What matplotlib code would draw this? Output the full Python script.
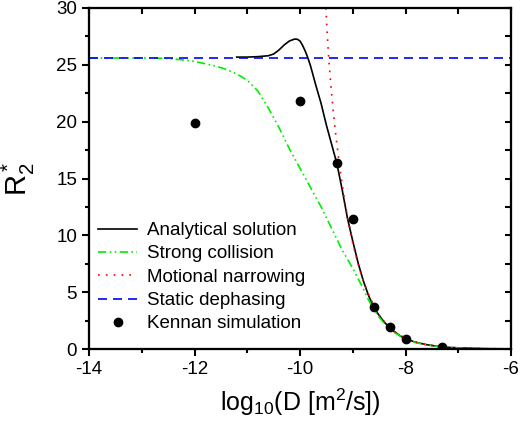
import matplotlib
matplotlib.use("Agg")
import matplotlib.pyplot as plt

plt.rcParams['font.family'] = ['Liberation Sans', 'DejaVu Sans']
plt.rcParams['mathtext.fontset'] = 'custom'
plt.rcParams['mathtext.rm'] = 'Liberation Sans'
plt.rcParams['mathtext.it'] = 'Liberation Sans'
plt.rcParams['axes.unicode_minus'] = False

# analytical solution
x_ana = [-11.2, -11.0, -10.8, -10.6, -10.5, -10.4, -10.3, -10.2, -10.1, -10.05,
         -10.0, -9.95, -9.9, -9.85, -9.8, -9.7, -9.6, -9.5, -9.4, -9.3, -9.2,
         -9.1, -9.0, -8.9, -8.8, -8.7, -8.6, -8.5, -8.4, -8.3, -8.2, -8.1, -8.0,
         -7.8, -7.6, -7.4, -7.2, -7.0, -6.5, -6.0]
y_ana = [25.68, 25.68, 25.72, 25.8, 25.95, 26.3, 26.75, 27.1, 27.27, 27.25,
         27.1, 26.7, 26.2, 25.6, 24.9, 23.2, 21.6, 19.7, 18.0, 16.3, 14.0,
         11.5, 9.5, 7.6, 6.0, 4.7, 3.65, 2.95, 2.35, 1.87, 1.5, 1.15, 0.9,
         0.58, 0.38, 0.24, 0.15, 0.1, 0.03, 0.01]

# strong collision
x_sc = [-14.0, -13.0, -12.6, -12.4, -12.2, -12.0, -11.8, -11.6, -11.4, -11.2,
        -11.0, -10.8, -10.6, -10.4, -10.2, -10.0, -9.8, -9.6, -9.4, -9.2,
        -9.0, -8.9, -8.8, -8.7, -8.6, -8.5, -8.4, -8.3, -8.2, -8.0, -7.8,
        -7.6, -7.4, -7.0, -6.5, -6.0]
y_sc = [25.6, 25.6, 25.58, 25.52, 25.42, 25.3, 25.1, 24.9, 24.6, 24.2,
        23.65, 22.7, 21.2, 19.5, 17.6, 15.9, 14.2, 12.5, 10.6, 8.7,
        7.1, 6.2, 5.3, 4.3, 3.5, 2.8, 2.25, 1.8, 1.42, 0.88, 0.56,
        0.36, 0.23, 0.09, 0.03, 0.01]

# motional narrowing
x_mn = [-9.51, -9.48, -9.45, -9.4, -9.35, -9.3, -9.25, -9.2, -9.15, -9.1,
        -9.0, -8.9, -8.8, -8.7, -8.6, -8.5, -8.4, -8.3, -8.2, -8.1, -8.0,
        -7.8, -7.6, -7.4, -7.2, -7.0, -6.5, -6.0]
y_mn = [30.0, 27.4, 25.2, 22.4, 20.0, 18.0, 16.1, 14.5, 13.0, 11.6,
        9.3, 7.5, 6.0, 4.8, 3.8, 3.0, 2.4, 1.9, 1.5, 1.2, 0.95,
        0.6, 0.38, 0.24, 0.15, 0.1, 0.03, 0.01]

# static dephasing
x_sd = [-14.0, -6.0]
y_sd = [25.6, 25.6]

# Kennan simulation
x_ken = [-12.0, -10.0, -9.3, -9.0, -8.6, -8.3, -8.0, -7.3]
y_ken = [19.9, 21.8, 16.4, 11.4, 3.7, 1.9, 0.9, 0.2]

fig = plt.figure(figsize=(5.2, 4.33), dpi=100)
ax = fig.add_axes([89 / 520, 1 - 349 / 433, 422 / 520, 341 / 433])

ax.plot(x_ana, y_ana, color='black', lw=1.2, label='Analytical solution')
ax.plot(x_sc, y_sc, color='#00ee00', lw=1.2, linestyle=(0, (5, 2, 1, 2, 1, 2)),
        label='Strong collision')
ax.plot(x_mn, y_mn, color='red', lw=1.2, linestyle=(0, (1, 3.7)),
        label='Motional narrowing')
ax.plot(x_sd, y_sd, color='blue', lw=1.2, linestyle=(0, (5.4, 3.6)),
        label='Static dephasing')
ax.plot(x_ken, y_ken, 'o', color='black', ms=6, label='Kennan simulation')

ax.set_xlim(-14, -6)
ax.set_ylim(0, 30)
ax.set_xticks([-14, -12, -10, -8, -6])
ax.set_xticks([-13, -11, -9, -7], minor=True)
ax.set_yticks([0, 5, 10, 15, 20, 25, 30])
ax.set_yticks([2.5, 7.5, 12.5, 17.5, 22.5, 27.5], minor=True)

for s in ax.spines.values():
    s.set_linewidth(1.5)
ax.tick_params(which='both', direction='out', width=1.5, labelsize=13.5,
               top=False, right=False)
ax.tick_params(which='major', length=5)
ax.tick_params(which='minor', length=3)

# inward ticks on top and right
ax2 = ax.twiny()
ax2.set_xlim(-14, -6)
ax2.set_xticks([-14, -13, -12, -11, -10, -9, -8, -7, -6])
ax2.tick_params(direction='in', width=1.5, length=4, labeltop=False)
ax3 = ax.twinx()
ax3.set_ylim(0, 30)
ax3.set_yticks([0, 2.5, 5, 7.5, 10, 12.5, 15, 17.5, 20, 22.5, 25, 27.5, 30])
ax3.tick_params(direction='in', width=1.5, length=4, labelright=False)
for a in (ax2, ax3):
    for s in a.spines.values():
        s.set_linewidth(1.5)

ax.set_xlabel(r'log$_{\mathregular{10}}$(D [m$^{\mathregular{2}}$/s])', fontsize=18,
              labelpad=6)
ax.set_ylabel(r'$\mathregular{R_2^*}$', fontsize=21, labelpad=14)

ax.legend(loc='upper left', bbox_to_anchor=(98 / 520, 1 - 222 / 433),
          bbox_transform=fig.transFigure, frameon=False, fontsize=13.5,
          numpoints=1, handlelength=2.1, handletextpad=0.5, labelspacing=0.33,
          borderpad=0, borderaxespad=0)

fig.savefig('out.png', dpi=100)
